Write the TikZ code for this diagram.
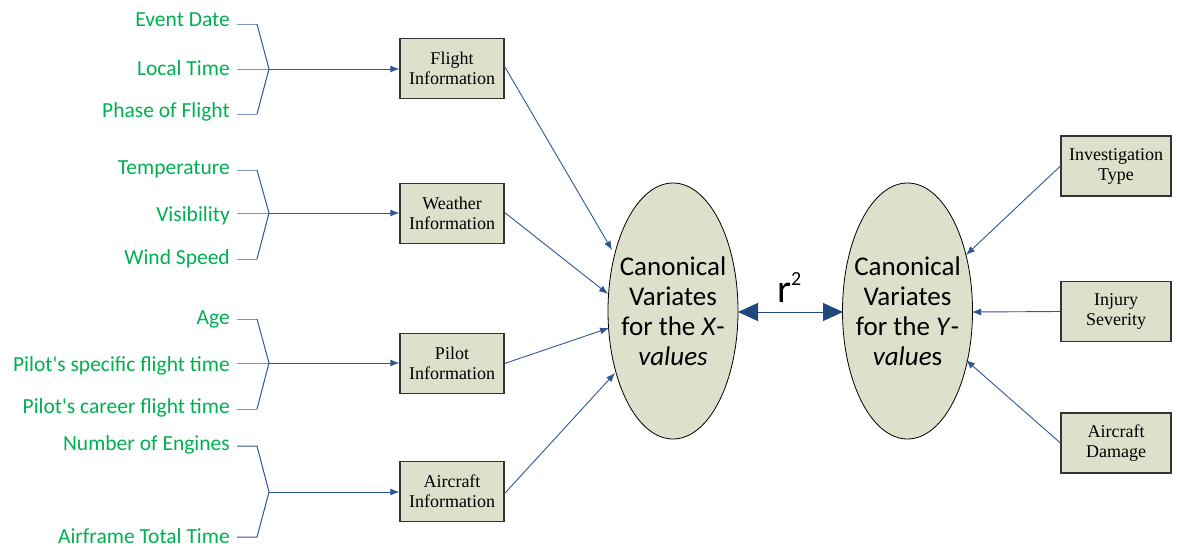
\documentclass[tikz,border=0pt]{standalone}
\usepackage{fontspec}
\setmainfont{Carlito}
\newfontfamily\serifbox{Liberation Serif}
\usetikzlibrary{arrows.meta,shapes.geometric}
\definecolor{lblgreen}{HTML}{00B050}
\definecolor{boxfill}{HTML}{DDE0CA}
\definecolor{lineblue}{HTML}{2F5597}
\definecolor{stubblue}{HTML}{7F97BC}
\definecolor{tipblue}{HTML}{1F497D}
\tikzset{
  lbl/.style={anchor=base east, inner sep=0, text=lblgreen, font=\fontsize{21.5}{24}\selectfont},
  infobox/.style={draw=black!80, line width=1.2pt, fill=boxfill, minimum width=104, minimum height=60, inner sep=0, align=center, font=\serifbox\fontsize{18}{20}\selectfont},
  cvnode/.style={draw=black, line width=0.8pt, fill=boxfill, ellipse, minimum width=130, minimum height=256, inner sep=0},
  cvtext/.style={inner sep=0, align=center, font=\fontsize{27}{30}\selectfont},
  conn/.style={draw=lineblue, line width=0.9pt, -{Latex[length=9, width=7]}},
  stub/.style={draw=stubblue, line width=1pt},
  brk/.style={draw=lineblue, line width=1pt},
  bigarrow/.style={draw=tipblue, line width=1pt, {Triangle[length=20, width=18]}-{Triangle[length=20, width=18]}},
}
\begin{document}
\begin{tikzpicture}[x=1pt, y=-1pt]
\useasboundingbox (0,0) rectangle (1177,546);
% labels
\node[lbl] (l11) at (230,27) {Event Date};
\node[lbl] (l12) at (230,75) {Local Time};
\node[lbl] (l13) at (230,117) {Phase of Flight};
\node[lbl] (l21) at (230,174) {Temperature};
\node[lbl] (l22) at (230,221) {Visibility};
\node[lbl] (l23) at (230,264) {Wind Speed};
\node[lbl] (l31) at (230,324) {Age};
\node[lbl] (l32) at (230,371) {Pilot\textquotesingle s specific flight time};
\node[lbl] (l33) at (230,413) {Pilot\textquotesingle s career flight time};
\node[lbl] (l41) at (230,450) {Number of Engines};
\node[lbl] (l42) at (230,543) {Airframe Total Time};
% boxes
\node[infobox] (fi) at (452,68.5) {Flight\\Information};
\node[infobox] (wi) at (452,213.5) {Weather\\Information};
\node[infobox] (pi) at (452,363.5) {Pilot\\Information};
\node[infobox] (ai) at (452,491.5) {Aircraft\\Information};
\node[infobox, minimum width=110] (it) at (1116,166) {Investigation\\Type};
\node[infobox, minimum width=110] (is) at (1116,311.5) {Injury\\Severity};
\node[infobox, minimum width=110] (ad) at (1116,443) {Aircraft\\Damage};
% ellipses
\node[cvnode] (cx) at (673,311) {};
\node[cvtext] (cxt) at (673,311) {Canonical\\Variates\\for the \textit{X}-\\\textit{values}};
\node[cvnode] (cy) at (907.5,311) {};
\node[cvtext] (cyt) at (907.5,311) {Canonical\\Variates\\for the \textit{Y}-\\\textit{value}s};
% bracket coordinates
\foreach \g/\ya/\ym/\yb in {1/24/69/114, 2/170/213/259, 3/319/363/409} {
  \coordinate (a\g s) at (237,\ya);
  \coordinate (a\g e) at (257,\ya);
  \coordinate (m\g s) at (237,\ym);
  \coordinate (j\g) at (269,\ym);
  \coordinate (b\g s) at (237,\yb);
  \coordinate (b\g e) at (257,\yb);
}
\coordinate (a4s) at (237,446);
\coordinate (a4e) at (257,446);
\coordinate (j4) at (269,492);
\coordinate (b4s) at (237,537);
\coordinate (b4e) at (257,537);
% brackets
\foreach \g in {1,2,3} {
  \draw[stub] (a\g s) -- (a\g e);
  \draw[stub] (b\g s) -- (b\g e);
  \draw[stub] (m\g s) -- (j\g);
  \draw[brk] (a\g e) -- (j\g) -- (b\g e);
}
\draw[brk] (a4s) -- (a4e) -- (j4) -- (b4e) -- (b4s);
\draw[conn] (j1) -- (fi.west |- j1);
\draw[conn] (j2) -- (wi.west |- j2);
\draw[conn] (j3) -- (pi.west |- j3);
\draw[conn] (j4) -- (ai.west |- j4);
% to X ellipse
\coordinate (cx1) at (612,250);
\coordinate (cx2) at (608,294);
\coordinate (cx3) at (609,328);
\coordinate (cx4) at (615,373);
\draw[conn] ([yshift=2]fi.east) -- (cx1);
\draw[conn] ([yshift=1]wi.east) -- (cx2);
\draw[conn] (pi.east) -- (cx3);
\draw[conn] ([yshift=-2]ai.east) -- (cx4);
% to Y ellipse
\coordinate (cy1) at (966,255);
\coordinate (cy2) at (972,312);
\coordinate (cy3) at (966,360);
\draw[conn] (it.west) -- (cy1);
\draw[conn] (is.west) -- (cy2);
\draw[conn] (ad.west) -- (cy3);
% r^2
\coordinate (rl) at (738,312);
\coordinate (rr) at (843,312);
\draw[bigarrow] (rl) -- (rr);
\node[anchor=base west, inner sep=0, font=\fontsize{40}{44}\selectfont] (r2) at (777,302) {r\raisebox{17pt}{\fontsize{20}{22}\selectfont 2}};
\end{tikzpicture}
\end{document}
